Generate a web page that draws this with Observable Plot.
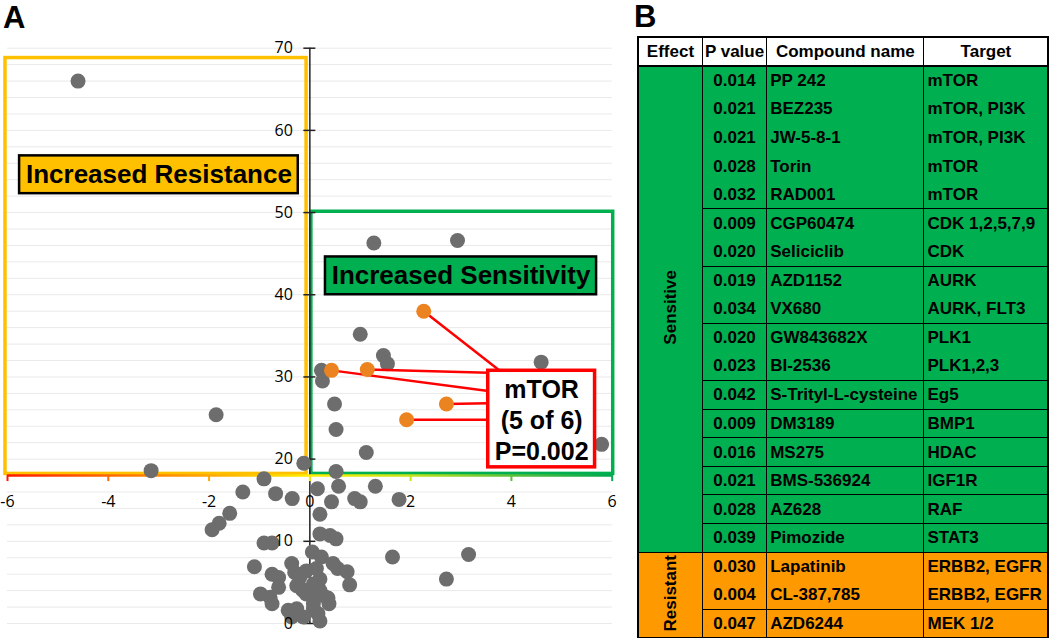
<!DOCTYPE html>
<html>
<head>
<meta charset="utf-8">
<script src="https://cdn.jsdelivr.net/npm/d3@7"></script>
<script src="https://cdn.jsdelivr.net/npm/@observablehq/plot@0.6"></script>
<style>
  html, body { margin: 0; padding: 0; background: #fff; }
  #page { position: relative; width: 1050px; height: 638px; overflow: hidden; font-family: "Liberation Sans", Arial, sans-serif; }
  .panel-label { position: absolute; font-weight: bold; font-size: 31px; line-height: 1.1; color: #000; }
  #chart { position: absolute; left: 0; top: 0; }
  #tbl { position: absolute; left: 637px; top: 36px; border-collapse: collapse; table-layout: fixed; width: 411px;
         font-weight: bold; font-size: 17px; color: #000; border: 2px solid #000; }
  #tbl th, #tbl td { padding: 0 2px 0 3px; border-left: 1.5px solid #000; border-right: 1.5px solid #000;
         white-space: nowrap; overflow: visible; line-height: 1; }
  #tbl th { height: 27px; text-align: center; background: #fff; border-bottom: 2px solid #000; padding: 0; }
  #tbl tr.row { height: 28.6px; }
  #tbl td.p { text-align: center; padding: 0; }
  #tbl td.sep { border-top: 1.5px solid #000; }
  #tbl td.eff { text-align: center; padding: 0; border-top: 1.5px solid #000; border-bottom: 1.5px solid #000; }
  #tbl td.eff span { display: inline-block; writing-mode: vertical-rl; transform: rotate(180deg); }
</style>
</head>
<body>
<div id="page">
  <div id="chart"></div>
  <div class="panel-label" style="left:3px; top:1px;">A</div>
  <div class="panel-label" style="left:634px; top:0px;">B</div>
  <table id="tbl"></table>
</div>
<script>
// ---------------- Panel A data ----------------
// other compounds (x = effect score, y = value)
const otherCompounds = [
  [-4.6, 66.0], [-3.15, 18.6], [-1.86, 25.4], [-0.12, 19.5],
  [1.27, 46.3], [2.93, 46.6], [1.00, 35.2], [1.46, 32.6], [1.54, 31.6], [4.59, 31.8],
  [0.23, 30.8], [0.25, 29.5], [0.49, 26.7], [0.52, 23.6], [1.12, 20.8], [5.79, 21.8], [0.52, 18.5],
  [0.15, 16.4], [0.57, 16.7], [1.30, 16.7], [0.43, 14.8], [0.89, 15.2], [1.00, 14.8], [1.77, 15.1], [0.20, 13.3],
  [0.20, 10.9], [0.40, 10.7], [0.52, 10.3], [1.64, 8.1], [3.15, 8.4], [2.71, 5.4],
  [0.05, 8.7], [0.23, 8.1], [0.46, 7.3], [0.55, 6.7], [0.74, 6.3], [0.79, 4.7], [0.20, 5.4], [0.20, 4.0],
  [0.36, 3.1], [0.38, 2.4], [0.20, 0.3], [0.07, 1.8], [0.13, 6.7], [0.26, 3.4], [0.03, 3.4], [0.16, 1.2],
  [0.07, 2.4], [0.07, 4.8],
  [-0.07, 6.4], [-0.13, 4.0], [-0.91, 17.6], [-1.33, 16.0], [-0.68, 15.8], [-0.35, 15.2], [-1.59, 13.4],
  [-1.80, 12.2], [-1.94, 11.4], [-0.91, 9.8], [-0.75, 9.8], [-1.10, 6.9], [-0.36, 7.3], [-0.75, 6.0],
  [-0.62, 5.6], [-0.30, 6.2], [-0.20, 5.6], [-0.62, 4.4], [-0.98, 3.6], [-0.79, 3.2], [-0.26, 4.6],
  [-0.16, 4.2], [-0.07, 3.6], [-0.75, 2.4], [-0.43, 1.6], [-0.26, 1.8], [-0.36, 0.8], [-0.13, 0.8]
];
// mTOR compounds (highlighted)
const mtorX = [2.26, 0.43, 1.14, 2.71, 1.92];
const mtorY = [38.0, 30.8, 30.9, 26.7, 24.8];

const xTicks = [-6, -4, -2, 0, 2, 4, 6];
const yTicks = [0, 10, 20, 30, 40, 50, 60, 70];
const gridValues = d3.range(0, 71, 2);
const xAxisAt = 18;

// annotation geometry (data units)
const resistanceZone = {x1: -6.04, x2: -0.065, y1: 18.2, y2: 68.8};
const sensitivityZone = {x1: 0.03, x2: 6.02, y1: 18.2, y2: 50.1};
const resistLabel = {x1: -5.76, x2: -0.23, y1: 52.3, y2: 56.9, text: "Increased Resistance"};
const sensLabel = {x1: 0.31, x2: 5.69, y1: 40.0, y2: 44.6, text: "Increased Sensitivity"};
const mtorBox = {x1: 3.54, x2: 5.66, y1: 19.0, y2: 30.75, text: "mTOR\n(5 of 6)\nP=0.002"};
const calloutEndX = [3.77, 3.54, 3.54, 3.54, 3.54];
const calloutEndY = [30.75, 28.3, 30.5, 26.8, 24.8];

// ---------------- Panel B data ----------------
const headers = ["Effect", "P value", "Compound name", "Target"];
const effects = [
  "Sensitive","Sensitive","Sensitive","Sensitive","Sensitive","Sensitive","Sensitive","Sensitive","Sensitive",
  "Sensitive","Sensitive","Sensitive","Sensitive","Sensitive","Sensitive","Sensitive","Sensitive",
  "Resistant","Resistant","Resistant"
];
const pValues = [0.014, 0.021, 0.021, 0.028, 0.032, 0.009, 0.020, 0.019, 0.034, 0.020,
                 0.023, 0.042, 0.009, 0.016, 0.021, 0.028, 0.039, 0.030, 0.004, 0.047];
const compounds = ["PP 242", "BEZ235", "JW-5-8-1", "Torin", "RAD001", "CGP60474", "Seliciclib", "AZD1152",
                   "VX680", "GW843682X", "BI-2536", "S-Trityl-L-cysteine", "DM3189", "MS275", "BMS-536924",
                   "AZ628", "Pimozide", "Lapatinib", "CL-387,785", "AZD6244"];
const targets = ["mTOR", "mTOR, PI3K", "mTOR, PI3K", "mTOR", "mTOR", "CDK 1,2,5,7,9", "CDK", "AURK",
                 "AURK, FLT3", "PLK1", "PLK1,2,3", "Eg5", "BMP1", "HDAC", "IGF1R", "RAF", "STAT3",
                 "ERBB2, EGFR", "ERBB2, EGFR", "MEK 1/2"];
const targetGroups = [1, 1, 1, 1, 1, 2, 2, 3, 3, 4, 4, 5, 6, 7, 8, 9, 10, 11, 11, 12];

// ---------------- styles ----------------
const effectFill = {Sensitive: "#00B050", Resistant: "#FF9900"};
const axisStops = ["#ff1a00", "#ff6a00", "#ffa800", "#ffee00", "#c4e21a", "#5cc03a", "#00a650"];
const axisColor = d3.scaleLinear().domain(xTicks).range(axisStops);
const tickFont = "'Open Sans', 'DejaVu Sans', sans-serif";
const boldFont = "'Liberation Sans', Arial, sans-serif";

const idx = d3.range(mtorX.length);

const chart = Plot.plot({
  width: 630,
  height: 638,
  marginLeft: 7,
  marginRight: 18.3,
  marginTop: 47.7,
  marginBottom: 15,
  x: {domain: [-6, 6], axis: null},
  y: {domain: [0, 70], axis: null},
  color: {type: "identity"},
  style: {background: "transparent", overflow: "visible"},
  marks: [
    Plot.ruleY(gridValues, {stroke: "#e9e9e9", strokeWidth: 1}),
    Plot.rect([resistanceZone], {x1: "x1", x2: "x2", y1: "y1", y2: "y2", fill: "none", stroke: "#FFC000", strokeWidth: 3.5}),
    Plot.rect([sensitivityZone], {x1: "x1", x2: "x2", y1: "y1", y2: "y2", fill: "none", stroke: "#00B050", strokeWidth: 3.5}),
    Plot.ruleX([0], {y1: 0, y2: 70, stroke: "#222", strokeWidth: 1.5}),
    Plot.ruleY(yTicks, {x1: 0, x2: 0, insetLeft: -6, insetRight: -6, stroke: "#222", strokeWidth: 1.5}),
    Plot.ruleY([xAxisAt], {x1: -6, x2: 6, stroke: "url(#xgrad)", strokeWidth: 2.5}),
    Plot.ruleX(xTicks, {y1: xAxisAt, y2: xAxisAt, insetBottom: -6, stroke: d => axisColor(d), strokeWidth: 2}),
    Plot.text(xTicks, {x: d => d, y: xAxisAt, dy: 26, text: d => String(d), fontSize: 16, fontFamily: tickFont, fill: "#000"}),
    Plot.dot(otherCompounds, {x: d => d[0], y: d => d[1], r: 7.5, fill: "#6d6d6d"}),
    Plot.link(idx, {x1: i => mtorX[i], y1: i => mtorY[i], x2: i => calloutEndX[i], y2: i => calloutEndY[i], stroke: "#FF0000", strokeWidth: 2.5}),
    Plot.dot(idx, {x: i => mtorX[i], y: i => mtorY[i], r: 7.5, fill: "#EB8420"}),
    Plot.text(yTicks, {x: 0, y: d => d, dx: -17, textAnchor: "end", text: d => String(d), fontSize: 16, fontFamily: tickFont, fill: "#000"}),
    // labels
    Plot.rect([resistLabel], {x1: "x1", x2: "x2", y1: "y1", y2: "y2", fill: "#FFC000", stroke: "#000", strokeWidth: 2.5}),
    Plot.text([resistLabel], {x: d => (d.x1 + d.x2) / 2, y: d => (d.y1 + d.y2) / 2, text: "text", fontSize: 26, fontWeight: "bold", fontFamily: boldFont, fill: "#000"}),
    Plot.rect([sensLabel], {x1: "x1", x2: "x2", y1: "y1", y2: "y2", fill: "#00B050", stroke: "#000", strokeWidth: 2.5}),
    Plot.text([sensLabel], {x: d => (d.x1 + d.x2) / 2, y: d => (d.y1 + d.y2) / 2, text: "text", fontSize: 26, fontWeight: "bold", fontFamily: boldFont, fill: "#000"}),
    Plot.rect([mtorBox], {x1: "x1", x2: "x2", y1: "y1", y2: "y2", fill: "#fff", stroke: "#FF0000", strokeWidth: 3.5}),
    Plot.text([mtorBox], {x: d => (d.x1 + d.x2) / 2, y: d => (d.y1 + d.y2) / 2, text: "text", lineHeight: 1.25, fontSize: 25, fontWeight: "bold", fontFamily: boldFont, fill: "#000"})
  ]
});

// gradient for the x-axis line
{
  const xs = chart.scale("x");
  const svg = d3.select(chart);
  const defs = svg.insert("defs", ":first-child");
  const g = defs.append("linearGradient")
    .attr("id", "xgrad")
    .attr("gradientUnits", "userSpaceOnUse")
    .attr("x1", xs.apply(-6)).attr("x2", xs.apply(6))
    .attr("y1", 0).attr("y2", 0);
  xTicks.forEach((t, i) => {
    g.append("stop").attr("offset", i / (xTicks.length - 1)).attr("stop-color", axisStops[i]);
  });
}
document.getElementById("chart").appendChild(chart);

// ---------------- Panel B table ----------------
{
  const tbl = d3.select("#tbl");
  const cg = tbl.append("colgroup");
  [64.4, 64.3, 157.3, 124.4].forEach(w => cg.append("col").style("width", w + "px"));
  const hr = tbl.append("tr");
  headers.forEach(h => hr.append("th").text(h));
  const fmt = d3.format(".3f");
  compounds.forEach((c, i) => {
    const tr = tbl.append("tr").attr("class", "row").style("background", effectFill[effects[i]]);
    if (i === 0 || effects[i] !== effects[i - 1]) {
      const span = effects.filter(e => e === effects[i]).length;
      tr.append("td").attr("class", "eff").attr("rowspan", span)
        .append("span").text(effects[i]);
    }
    const sep = i > 0 && targetGroups[i] !== targetGroups[i - 1];
    tr.append("td").attr("class", "p" + (sep ? " sep" : "")).text(fmt(pValues[i]));
    tr.append("td").attr("class", sep ? "sep" : null).text(c);
    tr.append("td").attr("class", sep ? "sep" : null).text(targets[i]);
  });
}
</script>
</body>
</html>
